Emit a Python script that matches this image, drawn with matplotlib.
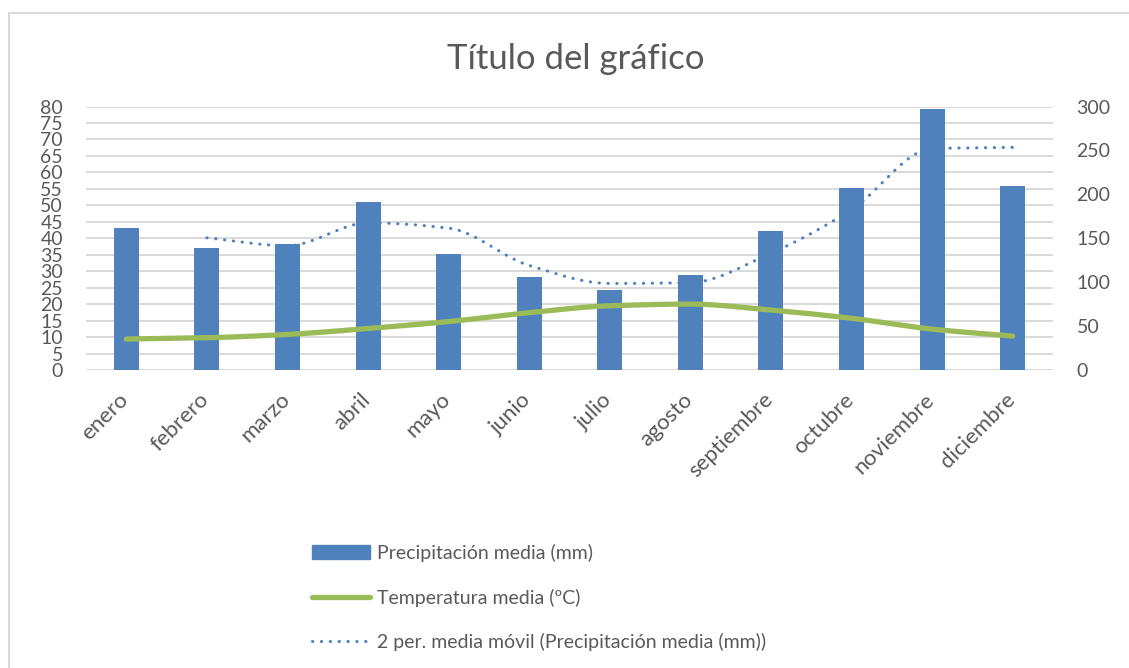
import numpy as np
import pandas as pd
import matplotlib
matplotlib.use("Agg")
import matplotlib.pyplot as plt
import matplotlib.transforms as mtrans
from matplotlib.patches import Patch, Rectangle
from matplotlib.lines import Line2D

plt.rcParams['font.family'] = ['Lato', 'DejaVu Sans']

# datos
meses = ['enero', 'febrero', 'marzo', 'abril', 'mayo', 'junio',
         'julio', 'agosto', 'septiembre', 'octubre', 'noviembre', 'diciembre']
precip = [162, 139, 144, 191, 132, 106, 91, 108, 158, 207, 297, 210]   # eje derecho
temp = [9.4, 9.8, 10.8, 12.6, 14.7, 17.4, 19.5, 20.0, 18.2, 15.7, 12.4, 10.3]  # eje izquierdo
left_ticks = list(range(0, 81, 5))
right_ticks = list(range(0, 301, 50))

BLUE = '#4F81BD'
GREEN = '#9BBB59'
GRID = '#D9D9D9'
TXT = '#595959'


def smooth(x, y, n=24):
    # hermite monotono, solo para dibujar la curva suavizada entre los puntos
    x = np.asarray(x, float)
    y = np.asarray(y, float)
    d = np.diff(y) / np.diff(x)
    m = np.zeros_like(y)
    m[0], m[-1] = d[0], d[-1]
    for i in range(1, len(y) - 1):
        if d[i - 1] * d[i] > 0:
            m[i] = 2 * d[i - 1] * d[i] / (d[i - 1] + d[i])
    t = np.linspace(0, 1, n, endpoint=False)
    h00 = 2 * t ** 3 - 3 * t ** 2 + 1
    h10 = t ** 3 - 2 * t ** 2 + t
    h01 = -2 * t ** 3 + 3 * t ** 2
    h11 = t ** 3 - t ** 2
    xs, ys = [], []
    for i in range(len(y) - 1):
        h = x[i + 1] - x[i]
        xs.extend(x[i] + t * h)
        ys.extend(h00 * y[i] + h10 * h * m[i] + h01 * y[i + 1] + h11 * h * m[i + 1])
    xs.append(x[-1])
    ys.append(y[-1])
    return np.array(xs), np.array(ys)


fig = plt.figure(figsize=(11.29, 6.68), dpi=100)
ax = fig.add_axes([86 / 1129, 1 - 370 / 668, (1053 - 86) / 1129, (370 - 106.5) / 668])
ax2 = ax.twinx()
ax3 = ax.twinx()

x = np.arange(len(meses))

# eje izquierdo: rejilla
ax.set_ylim(0, 80)
ax.set_yticks(left_ticks)
ax.set_xlim(-0.5, len(meses) - 0.5)
ax.grid(axis='y', color=GRID, lw=1.4)
ax.set_axisbelow(True)
ax.tick_params(axis='y', length=0, pad=16.5, labelsize=14, labelcolor=TXT)
ax.tick_params(axis='x', length=0, pad=14, labelsize=16, labelcolor=TXT)
ax.set_xticks(x)
ax.set_xticklabels(meses, rotation=45, ha='right')
off = mtrans.ScaledTranslation(6 / 100, 0, fig.dpi_scale_trans)
for lab in ax.get_xticklabels():
    lab.set_transform(lab.get_transform() + off)

# eje derecho: barras y media movil
ax2.bar(x, precip, width=0.31, color=BLUE, zorder=2)
media = pd.Series(precip).rolling(2).mean()
mx, my = smooth(x[1:], media[1:])
ax2.plot(mx, my, color=BLUE, lw=2.2, ls=(0, (0.1, 2.8)), dash_capstyle='round', zorder=3)
ax2.set_ylim(0, 300)
ax2.set_yticks(right_ticks)
ax2.tick_params(axis='y', length=0, pad=17, labelsize=14, labelcolor=TXT)

# temperatura encima de las barras
tx, ty = smooth(x, temp)
ax3.plot(tx, ty, color=GREEN, lw=3.8, solid_capstyle='round', zorder=4)
ax3.set_ylim(0, 80)
ax3.set_yticks([])

for a in (ax, ax2, ax3):
    for s in a.spines.values():
        s.set_visible(False)

fig.text(576 / 1129, 1 - 69 / 668, 'Título del gráfico', ha='center', va='baseline',
         fontsize=25, color=TXT)

handles = [Patch(color=BLUE),
           Line2D([], [], color=GREEN, lw=3.8, solid_capstyle='round'),
           Line2D([], [], color=BLUE, lw=2.2, ls=(0, (0.1, 2.8)), dash_capstyle='round')]
labels = ['Precipitación media (mm)', 'Temperatura media (ºC)',
          '2 per. media móvil (Precipitación media (mm))']
leg = fig.legend(handles, labels, loc='upper left', bbox_to_anchor=(312 / 1129, 1 - 544 / 668),
                 frameon=False, fontsize=14, handlelength=3.0, handletextpad=0.36,
                 labelspacing=1.36, borderpad=0, borderaxespad=0)
for t in leg.get_texts():
    t.set_color(TXT)

# borde del area del grafico
fig.patches.append(Rectangle((9 / 1129, -0.1), 1.2, 1 - 13 / 668 + 0.1, transform=fig.transFigure,
                             fill=False, edgecolor=GRID, lw=1.5))

fig.savefig('out.png', dpi=100)
